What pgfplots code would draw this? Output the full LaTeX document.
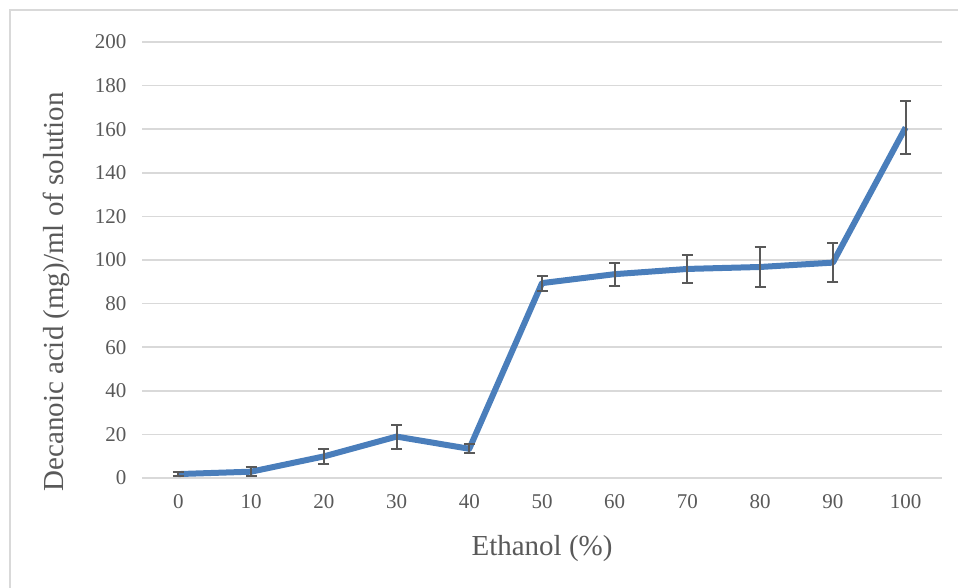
\documentclass[border=0pt]{standalone}
\usepackage{pgfplots}
\pgfplotsset{compat=1.18}
\usepackage{fontspec}
\setmainfont{Liberation Serif}
\definecolor{lineblue}{RGB}{74,126,187}
\definecolor{txtgray}{RGB}{89,89,89}
\definecolor{gridgray}{RGB}{217,217,217}
\definecolor{bordergray}{RGB}{217,217,217}
\begin{document}
\begin{tikzpicture}[x=1pt,y=1pt]
\path[use as bounding box] (0,0) rectangle (958,587);
\draw[bordergray, line width=1.2pt] (10,-2) -- (10,577) -- (960,577);
\begin{axis}[
  at={(142pt,109pt)}, anchor=south west,
  scale only axis, width=800pt, height=436pt,
  xmin=-0.5, xmax=10.5, ymin=0, ymax=200,
  xtick={0,...,10},
  xticklabels={0,10,20,30,40,50,60,70,80,90,100},
  ytick={0,20,...,200},
  axis line style={draw=none},
  major tick length=0pt,
  ymajorgrids, grid style={gridgray, line width=1.5pt},
  tick label style={font=\fontsize{21}{24}\selectfont, text=txtgray},
  /pgf/number format/assume math mode=true,
  xticklabel style={yshift=-13pt},
  yticklabel style={xshift=-12pt},
  label style={font=\fontsize{29}{34}\selectfont, text=txtgray},
  xlabel={Ethanol (\%)},
  ylabel={Decanoic acid (mg)/ml of solution},
  xlabel style={at={(axis description cs:0.5,-0.161)}, anchor=center},
  ylabel style={at={(axis description cs:-0.107,0.427)}, anchor=center},
  clip=false,
]
\addplot[lineblue, line width=6pt, line join=round, no marks] coordinates {
(0,1.8) (1,2.9) (2,9.9) (3,19) (4,13.4) (5,89.4) (6,93.5) (7,95.9) (8,96.8) (9,98.8) (10,160.8)};
\addplot[draw=none, no marks, forget plot,
  error bars/.cd, y dir=both, y explicit,
  error bar style={draw=txtgray, line width=2pt},
  error mark options={rotate=90, mark size=5.5pt, draw=txtgray, line width=2pt}]
  coordinates {
(0,1.8) +- (0,1)
(1,2.9) +- (0,2.1)
(2,9.9) +- (0,3.4)
(3,19) +- (0,5.5)
(4,13.4) +- (0,2.1)
(5,89.4) +- (0,3.4)
(6,93.5) +- (0,5.3)
(7,95.9) +- (0,6.3)
(8,96.8) +- (0,9.3)
(9,98.8) +- (0,8.9)
(10,160.8) +- (0,12.3)};
\end{axis}
\end{tikzpicture}
\end{document}
